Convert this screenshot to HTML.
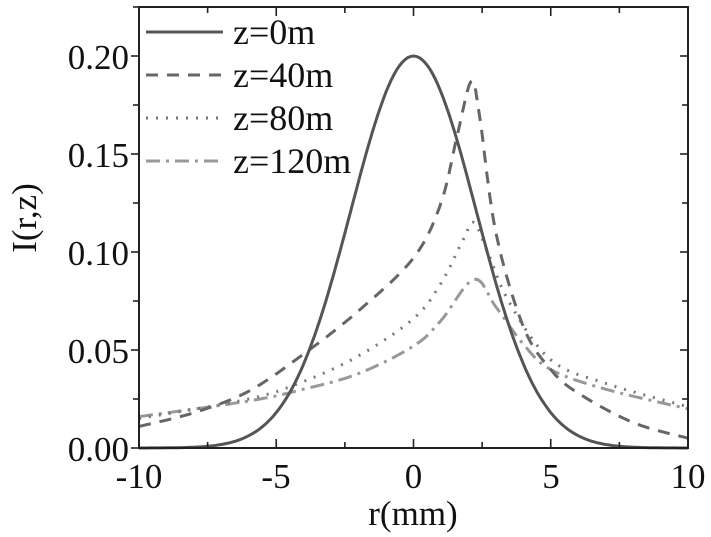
<!DOCTYPE html>
<html><head><meta charset="utf-8"><style>
body{margin:0;background:#fff;}
svg{display:block;font-family:"Liberation Serif",serif;}
</style></head><body>
<svg id="s" width="711" height="537" viewBox="0 0 711 537">
<g id="curves" fill="none"></g>
<rect x="139" y="7" width="549" height="441" fill="none" stroke="#222" stroke-width="2"/>
<g id="ticks" stroke="#222" stroke-width="1.6"></g>
<g font-size="35" fill="#111">
<text x="129" y="461" text-anchor="end">0.00</text>
<text x="129" y="363" text-anchor="end">0.05</text>
<text x="129" y="265" text-anchor="end">0.10</text>
<text x="129" y="167" text-anchor="end">0.15</text>
<text x="129" y="69" text-anchor="end">0.20</text>
<text x="139" y="488" text-anchor="middle">-10</text>
<text x="276" y="488" text-anchor="middle">-5</text>
<text x="413.5" y="488" text-anchor="middle">0</text>
<text x="551" y="488" text-anchor="middle">5</text>
<text x="688" y="488" text-anchor="middle">10</text>
<text x="413" y="525" text-anchor="middle">r(mm)</text>
<text transform="translate(36,218) rotate(-90)" text-anchor="middle">I(r,z)</text>
</g>
<g font-size="36" fill="#111">
<text x="233" y="44">z=0m</text>
<text x="233" y="87">z=40m</text>
<text x="233" y="130">z=80m</text>
<text x="233" y="173">z=120m</text>
</g>
<g fill="none" stroke-width="3">
<line x1="146" y1="32" x2="223" y2="32" stroke="#555"/>
<line x1="146" y1="75" x2="223" y2="75" stroke="#666" stroke-dasharray="12,9"/>
<line x1="146" y1="118" x2="223" y2="118" stroke="#777" stroke-dasharray="2,8"/>
<line x1="146" y1="161" x2="223" y2="161" stroke="#999" stroke-dasharray="14,6,3,6"/>
</g>
</svg>
<script>
var X=function(r){return 413.5+r*27.45},Y=function(v){return 448-v*1960};
function cr(pts){var out=[];for(var i=0;i<pts.length-1;i++){var p0=pts[Math.max(0,i-1)],p1=pts[i],p2=pts[i+1],p3=pts[Math.min(pts.length-1,i+2)];for(var t=0;t<1;t+=0.05){var t2=t*t,t3=t2*t;var f=function(a,b,c,d){return 0.5*(2*b+(-a+c)*t+(2*a-5*b+4*c-d)*t2+(-a+3*b-3*c+d)*t3)};out.push([f(p0[0],p1[0],p2[0],p3[0]),f(p0[1],p1[1],p2[1],p3[1])]);}}out.push(pts[pts.length-1]);return out;}
function path(pts){return "M"+pts.map(function(p){return X(p[0]).toFixed(1)+","+Y(p[1]).toFixed(1)}).join("L");}
var g=[];for(var r=-10;r<=10.001;r+=0.1)g.push([r,0.2*Math.exp(-r*r/10.4)]);
var z40=cr([[-10,0.011],[-8,0.018],[-6,0.029],[-4,0.048],[-2,0.07],[0,0.097],[1,0.125],[1.6,0.16],[2.1,0.187],[2.4,0.17],[3,0.11],[4,0.062],[5,0.04],[6,0.028],[8,0.013],[10,0.005]]);
var z80=cr([[-10,0.015],[-6,0.025],[-4,0.034],[-2,0.047],[0,0.066],[1,0.084],[1.8,0.106],[2.2,0.115],[2.7,0.1],[3.5,0.074],[5,0.045],[7,0.033],[10,0.021]]);
var z120=cr([[-10,0.016],[-6,0.024],[-4,0.03],[-2,0.038],[0,0.052],[1,0.065],[2.2,0.086],[3,0.072],[4,0.053],[5,0.04],[7,0.03],[10,0.02]]);
var c=document.getElementById("curves");
c.innerHTML='<path d="'+path(z120)+'" stroke="#999" stroke-width="3" stroke-dasharray="14,6,3,6"/>'+
'<path d="'+path(z80)+'" stroke="#777" stroke-width="3" stroke-dasharray="2,8"/>'+
'<path d="'+path(z40)+'" stroke="#666" stroke-width="3" stroke-dasharray="12,9"/>'+
'<path d="'+path(g)+'" stroke="#555" stroke-width="3"/>';
var t="";for(var i=-10;i<=10;i+=2.5){var x=X(i),L=(i%5==0)?9:6;t+='<line x1="'+x+'" y1="448" x2="'+x+'" y2="'+(448-L)+'"/><line x1="'+x+'" y1="7" x2="'+x+'" y2="'+(7+L)+'"/>';}
for(var v=0;v<=0.225;v+=0.025){var y=Y(v),L=(Math.round(v*1000)%50==0)?8:6;t+='<line x1="139" y1="'+y+'" x2="'+(139-L)+'" y2="'+y+'"/><line x1="688" y1="'+y+'" x2="'+(688-L)+'" y2="'+y+'"/>';}
document.getElementById("ticks").innerHTML=t;
</script>
</body></html>
